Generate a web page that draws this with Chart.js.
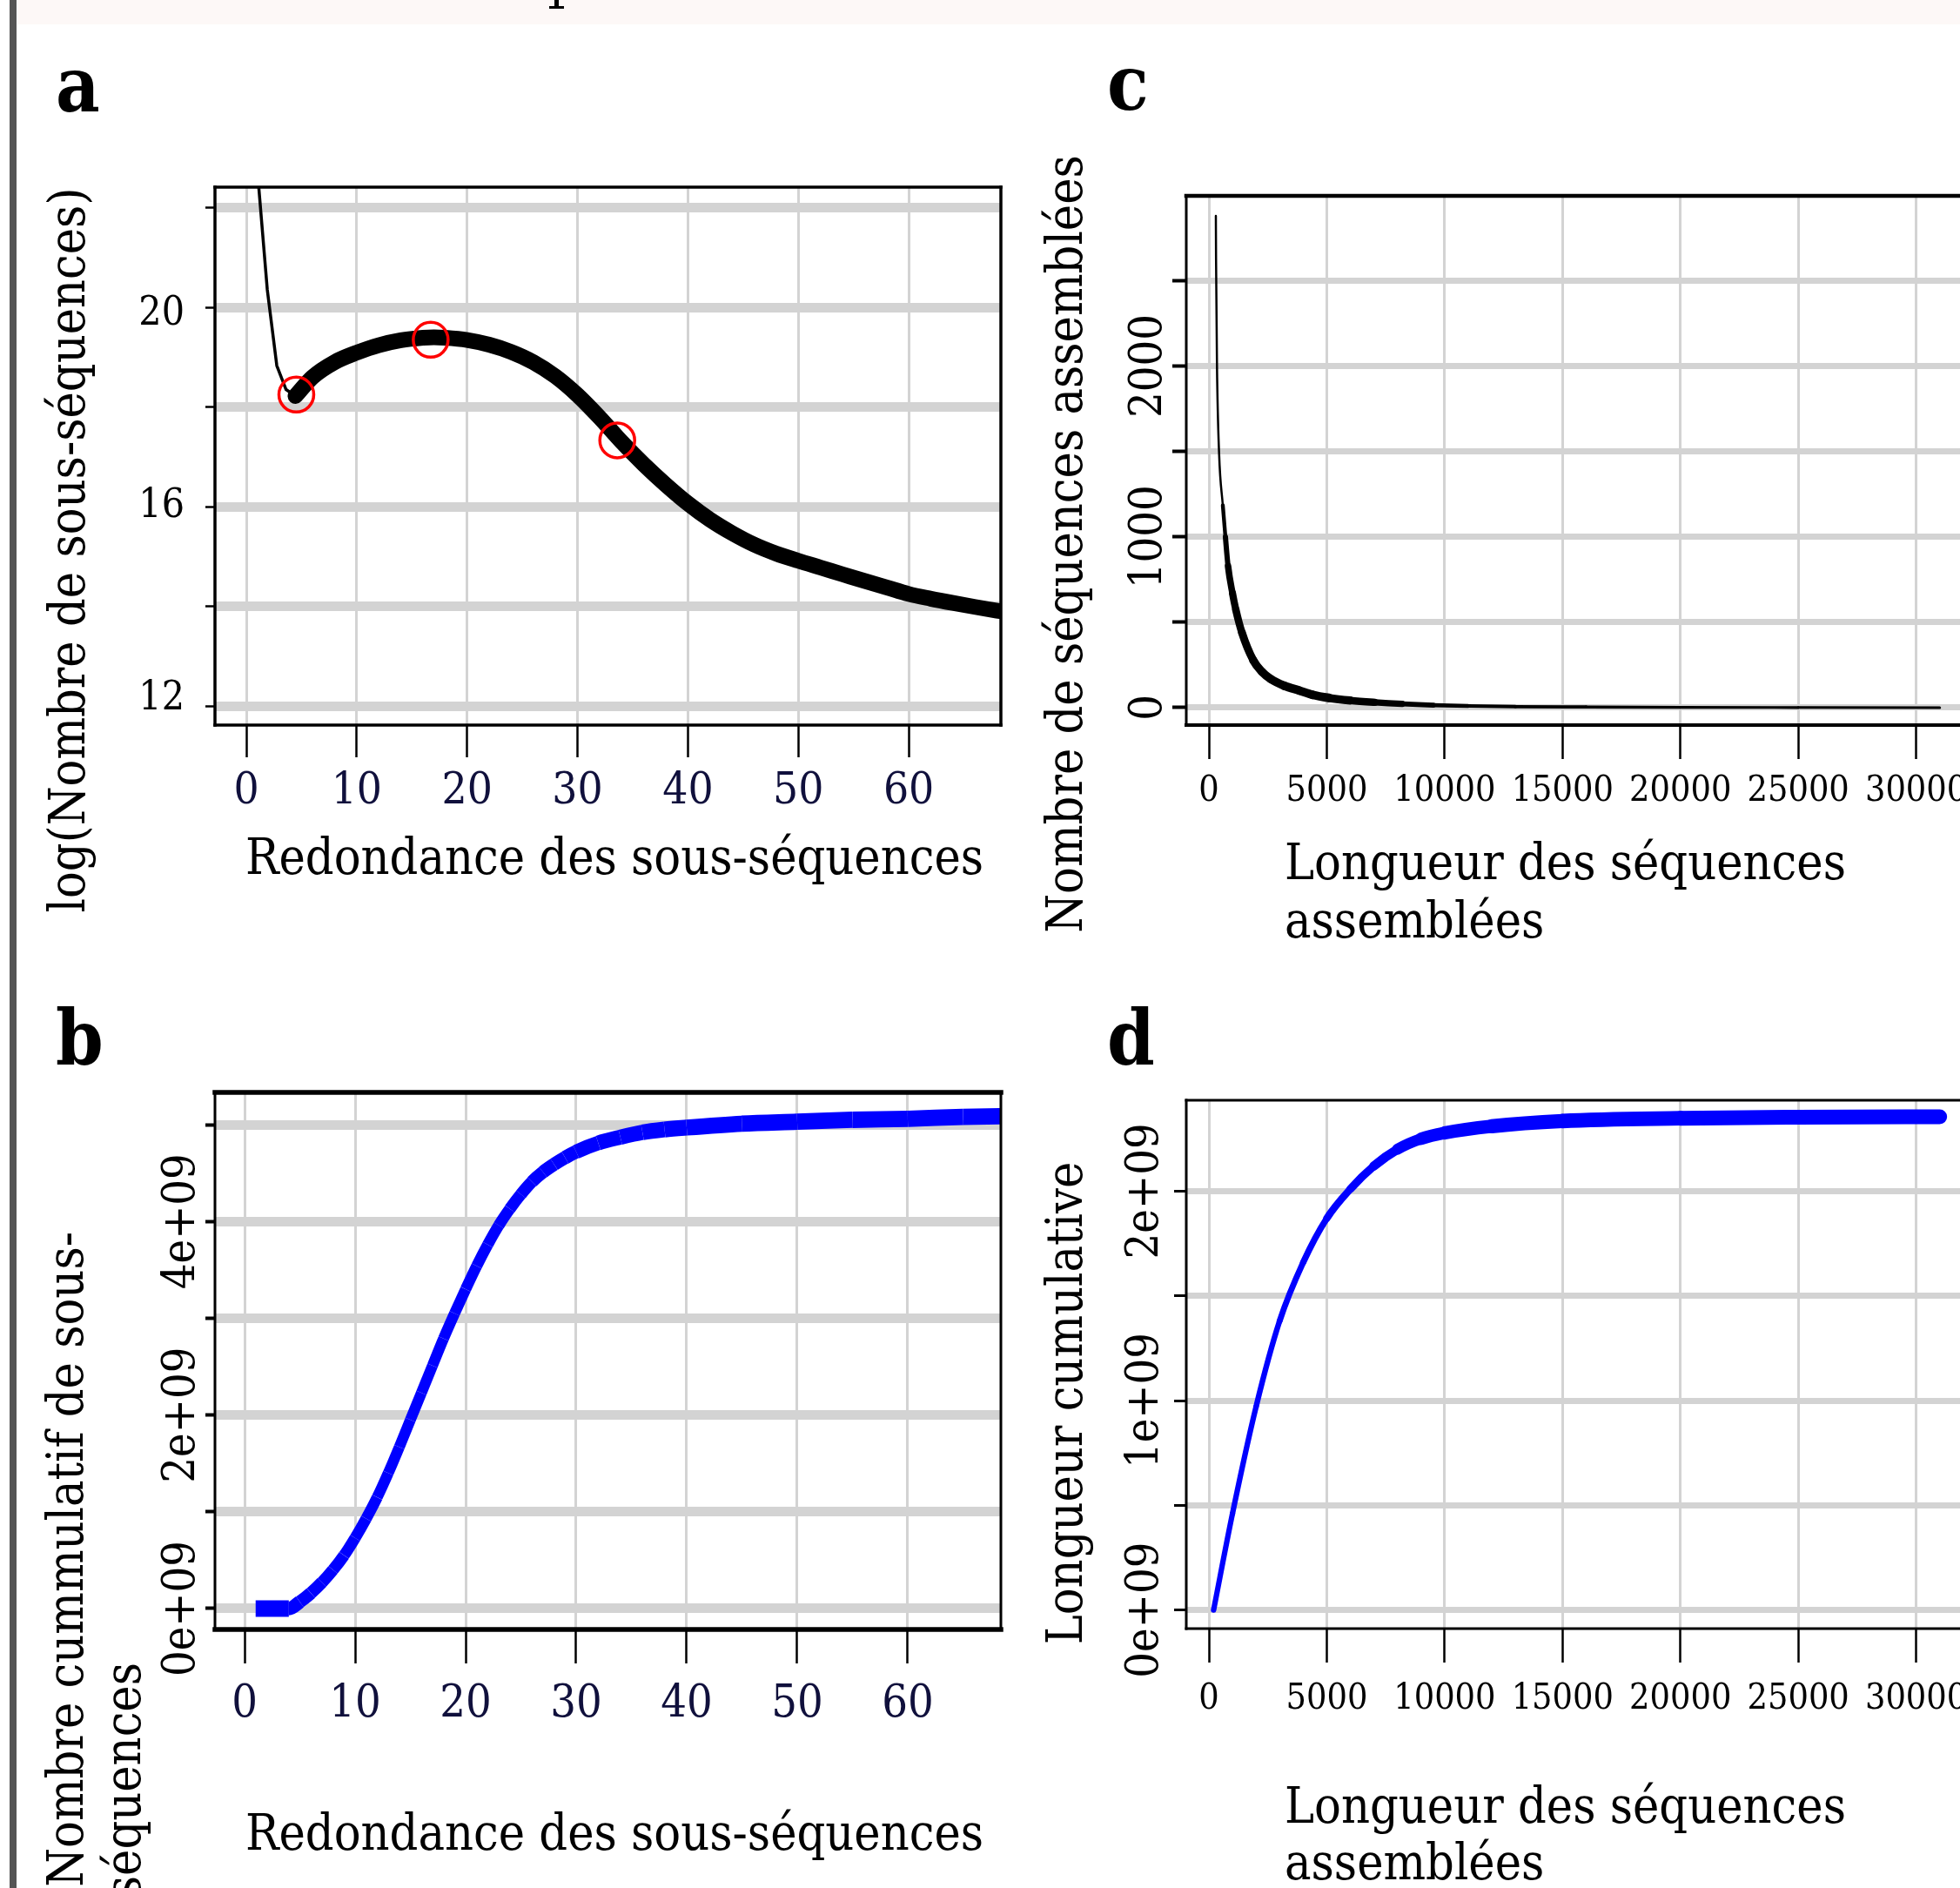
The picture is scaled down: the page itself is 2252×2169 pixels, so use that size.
<!DOCTYPE html>
<html><head><meta charset="utf-8">
<script src="https://cdn.jsdelivr.net/npm/chart.js@4.4.1/dist/chart.umd.min.js"></script>
<style>
html,body{margin:0;padding:0;background:#fff;overflow:hidden;}
body{width:2252px;height:2169px;position:relative;font-family:'DejaVu Serif Condensed','DejaVu Serif',serif;}
canvas{position:absolute;}
.t{position:absolute;white-space:nowrap;color:#000;line-height:1;}
.b{font-weight:bold;}
</style></head><body>
<div style="position:absolute;left:11px;top:0;width:8px;height:2169px;background:#555"></div>
<div style="position:absolute;left:20px;top:0;width:2232px;height:28px;background:#fdf8f7"></div>
<div style="position:absolute;left:637px;top:0;width:5px;height:9px;background:#000"></div>
<div style="position:absolute;left:631px;top:7px;width:17px;height:3px;background:#000"></div>
<canvas id="A" width="1060" height="815" style="left:100px;top:145px"></canvas>
<canvas id="B" width="1060" height="815" style="left:100px;top:1185px"></canvas>
<canvas id="C" width="1150" height="805" style="left:1150px;top:155px"></canvas>
<canvas id="D" width="1150" height="806" style="left:1150px;top:1194px"></canvas>
<div id="texts"></div>
<script>
// ================= DATA =================
// Panel a : log(number of sub-sequences) vs redundancy
const aThinX = [1.0, 1.9, 2.76, 3.6, 4.45];
const aThinY = [22.75, 20.35, 18.83, 18.35, 18.22];
const aX = [4.45, 6, 8, 10, 12, 14, 16, 17, 18, 20, 22, 24, 26, 28, 30, 32, 34, 36, 38, 40, 42, 44, 46, 48, 50, 52, 54, 56, 58, 60, 62, 64, 66, 68, 70];
const aY = [18.22, 18.6, 18.9, 19.09, 19.24, 19.34, 19.39, 19.4, 19.39, 19.345, 19.25, 19.105, 18.9, 18.615, 18.24, 17.79, 17.3, 16.85, 16.44, 16.065, 15.74, 15.47, 15.24, 15.06, 14.915, 14.78, 14.645, 14.51, 14.38, 14.25, 14.155, 14.07, 13.99, 13.915, 13.845];
const aMarkX = [4.53, 16.7, 33.6];
const aMarkY = [18.25, 19.35, 17.33];
const aXTicks = [0, 10, 20, 30, 40, 50, 60];
const aXLabels = ['0', '10', '20', '30', '40', '50', '60'];
const aYTicks = [12, 14, 16, 18, 20, 22];
const aYLabels = ['12', '', '16', '', '20', ''];

// Panel b : cumulative number of sub-sequences
const bX = [1, 2, 3, 4, 5, 6, 7, 8, 9, 10, 11, 12, 13, 14, 15, 16, 17, 18, 19, 20, 21, 22, 23, 24, 25, 26, 27, 28, 29, 30, 32, 34, 36, 38, 40, 45, 50, 55, 60, 65, 70];
const bY = [0, 0, 0, 0, 0.07e9, 0.16e9, 0.27e9, 0.4e9, 0.55e9, 0.73e9, 0.93e9, 1.15e9, 1.4e9, 1.67e9, 1.95e9, 2.23e9, 2.51e9, 2.79e9, 3.05e9, 3.3e9, 3.54e9, 3.76e9, 3.96e9, 4.13e9, 4.28e9, 4.41e9, 4.51e9, 4.59e9, 4.66e9, 4.72e9, 4.81e9, 4.87e9, 4.92e9, 4.95e9, 4.97e9, 5.01e9, 5.03e9, 5.05e9, 5.06e9, 5.08e9, 5.09e9];
const bXTicks = [0, 10, 20, 30, 40, 50, 60];
const bXLabels = ['0', '10', '20', '30', '40', '50', '60'];
const bYTicks = [0, 1e9, 2e9, 3e9, 4e9, 5e9];
const bYLabels = ['0e+09', '', '2e+09', '', '4e+09', ''];

// Panel c : number of assembled sequences vs length
const cX = [295, 303, 343, 432, 590, 700, 812, 1000, 1140, 1400, 1880, 2250, 2620, 3200, 3840, 4400, 5090, 6000, 7050, 8200, 9520, 11000, 13000, 16000, 20000, 25000, 31000];
const cY = [2880, 2630, 2000, 1490, 1185, 1000, 829, 670, 575, 440, 278, 210, 168, 128, 100, 75, 57, 42, 31, 22, 15, 10, 6, 4, 2, 1, 0];
const cXTicks = [0, 5000, 10000, 15000, 20000, 25000, 30000];
const cXLabels = ['0', '5000', '10000', '15000', '20000', '25000', '30000'];
const cYTicks = [0, 500, 1000, 1500, 2000, 2500];
const cYLabels = ['0', '', '1000', '', '2000', ''];

// Panel d : cumulative length vs length
const dX = [200, 1000, 2000, 3000, 4000, 5000, 6000, 7000, 8000, 9000, 10000, 12000, 15000, 20000, 25000, 31000];
const dY = [0, 0.46e9, 0.97e9, 1.38e9, 1.66e9, 1.87e9, 2.01e9, 2.12e9, 2.2e9, 2.25e9, 2.278e9, 2.31e9, 2.335e9, 2.348e9, 2.353e9, 2.355e9];
const dXTicks = [0, 5000, 10000, 15000, 20000, 25000, 30000];
const dXLabels = ['0', '5000', '10000', '15000', '20000', '25000', '30000'];
const dYTicks = [0, 0.5e9, 1e9, 1.5e9, 2e9];
const dYLabels = ['0e+09', '', '1e+09', '', '2e+09'];

// ================= STYLE / HELPERS =================
const FONT = "'DejaVu Serif Condensed', 'DejaVu Serif', serif";
const NAVY = '#10103c';
const GRID = '#d3d3d3';
const pts = (xs, ys) => xs.map((x, i) => ({x: x, y: ys[i]}));

const framePlugin = {
  id: 'frame',
  afterDatasetsDraw(chart, args, o) {
    const a = chart.chartArea, ctx = chart.ctx;
    ctx.save();
    ctx.strokeStyle = '#000';
    ctx.lineCap = 'square';
    const side = (w, x1, y1, x2, y2) => {
      if (!w) return;
      ctx.lineWidth = w; ctx.beginPath(); ctx.moveTo(x1, y1); ctx.lineTo(x2, y2); ctx.stroke();
    };
    side(o.top, a.left, a.top, a.right, a.top);
    side(o.bottom, a.left, a.bottom, a.right, a.bottom);
    side(o.left, a.left, a.top, a.left, a.bottom);
    side(o.right, a.right, a.top, a.right, a.bottom);
    ctx.restore();
  }
};
Chart.register(framePlugin);

function scale(o) {
  const font = {family: FONT, size: o.fontSize};
  if (o.lineHeight) font.lineHeight = o.lineHeight;
  return {
    type: 'linear', min: o.min, max: o.max,
    afterBuildTicks: s => { s.ticks = o.ticks.map(v => ({value: v})); },
    afterFit: s => { if (o.width !== undefined) s.width = o.width; if (o.height !== undefined) s.height = o.height; },
    border: {display: false},
    grid: {color: GRID, lineWidth: o.gridWidth, drawTicks: true, tickLength: o.tickLength, tickColor: '#000', tickWidth: o.tickWidth},
    ticks: {
      autoSkip: false, font: font, color: o.color || '#000',
      padding: o.padding, minRotation: o.rot || 0, maxRotation: o.rot || 0,
      crossAlign: o.crossAlign || 'near',
      callback: o.callback || ((v, i) => o.labels[i])
    }
  };
}

function slopeWidth(flat, steep) {
  return ctx => {
    const dx = ctx.p1.x - ctx.p0.x, dy = ctx.p1.y - ctx.p0.y;
    const h = Math.hypot(dx, dy) || 1;
    return flat - (flat - steep) * Math.abs(dy) / h;
  };
}

// stroke width of the noisy count curve (panel c) as a function of count level
const cWidthLevels = [0, 15, 30, 60, 700, 1300, 3000];
const cWidthPx =     [3, 5, 8, 10, 8, 2.5, 2.5];
function cWidth(v) {
  for (let i = 1; i < cWidthLevels.length; i++) {
    if (v <= cWidthLevels[i]) {
      const t = (v - cWidthLevels[i - 1]) / (cWidthLevels[i] - cWidthLevels[i - 1]);
      return cWidthPx[i - 1] + t * (cWidthPx[i] - cWidthPx[i - 1]);
    }
  }
  return 2.5;
}

const base = (padRight, plugFrame) => ({
  responsive: false, animation: false, events: [],
  layout: {autoPadding: false, padding: {left: 0, top: 70, right: padRight, bottom: 0}},
  plugins: {legend: {display: false}, tooltip: {enabled: false}, frame: plugFrame}
});

// ================= PANEL A =================
// in the original the y labels are nudged: "12" sits a little above its tick, "20" a little below
const aYLabelShift = ['up', '', 'none', '', 'down', ''];
new Chart(document.getElementById('A'), {
  type: 'line',
  data: {datasets: [
    {data: pts(aMarkX, aMarkY), showLine: false, pointRadius: 20, pointBorderWidth: 3.5, pointBorderColor: '#ff0000', pointBackgroundColor: 'rgba(0,0,0,0)', order: 0},
    {data: pts(aThinX, aThinY), borderColor: '#000', borderWidth: 3.5, pointRadius: 0, clip: 0, borderJoinStyle: 'round', order: 1},
    {data: pts(aX, aY), borderColor: '#000', borderWidth: 18, pointRadius: 0, clip: 0, cubicInterpolationMode: 'monotone', borderJoinStyle: 'round', borderCapStyle: 'round', order: 1}
  ]},
  options: Object.assign(base(10, {top: 3.5, bottom: 3.5, left: 3.5, right: 3.5}), {
    scales: {
      x: scale({min: -2.84, max: 68.35, ticks: aXTicks, labels: aXLabels, height: 127, gridWidth: 3, tickLength: 37, tickWidth: 2.5, fontSize: 51, color: NAVY, padding: 9}),
      y: scale({min: 11.62, max: 22.41, ticks: aYTicks, labels: aYLabels, width: 147, gridWidth: 11, tickLength: 11, tickWidth: 2.5, fontSize: 46, padding: 24, lineHeight: '16px',
                callback: (v, i) => {
                  const l = aYLabels[i];
                  if (!l) return '';
                  if (aYLabelShift[i] === 'down') return ['', l];
                  if (aYLabelShift[i] === 'up') return [l, ''];
                  return l;
                }})
    }
  })
});

// ================= PANEL B =================
new Chart(document.getElementById('B'), {
  type: 'line',
  data: {datasets: [
    {data: pts(bX, bY), borderColor: '#0000ff', pointRadius: 0, clip: 0, cubicInterpolationMode: 'monotone', borderCapStyle: 'butt', borderJoinStyle: 'round', borderWidth: 15,
     segment: {borderWidth: slopeWidth(19, 12)}}
  ]},
  options: Object.assign(base(10, {top: 5.5, bottom: 5.5, left: 3, right: 3}), {
    scales: {
      x: scale({min: -2.68, max: 68.43, ticks: bXTicks, labels: bXLabels, height: 128, gridWidth: 3, tickLength: 39, tickWidth: 2.5, fontSize: 52, color: NAVY, padding: 16}),
      y: scale({min: -0.216e9, max: 5.333e9, ticks: bYTicks, labels: bYLabels, width: 147, gridWidth: 11, tickLength: 11, tickWidth: 4, fontSize: 52, padding: -52, rot: 90, crossAlign: 'center'})
    }
  })
});

// ================= PANEL C =================
new Chart(document.getElementById('C'), {
  type: 'line',
  data: {datasets: [
    {data: pts(cX, cY), borderColor: '#000', pointRadius: 0, clip: 0, cubicInterpolationMode: 'monotone', borderCapStyle: 'round', borderJoinStyle: 'round', borderWidth: 2.5,
     segment: {borderWidth: ctx => cWidth((cY[ctx.p0DataIndex] + cY[ctx.p1DataIndex]) / 2)}}
  ]},
  options: Object.assign(base(38, {top: 4.5, bottom: 4, left: 3, right: 3}), {
    scales: {
      x: scale({min: -960, max: 32230, ticks: cXTicks, labels: cXLabels, height: 127, gridWidth: 3, tickLength: 39, tickWidth: 2.5, fontSize: 41, padding: 13}),
      y: scale({min: -102, max: 2997, ticks: cYTicks, labels: cYLabels, width: 213, gridWidth: 7, tickLength: 16, tickWidth: 4, fontSize: 52, padding: -33, rot: 90, crossAlign: 'center'})
    }
  })
});

// ================= PANEL D =================
new Chart(document.getElementById('D'), {
  type: 'line',
  data: {datasets: [
    {data: pts(dX, dY), borderColor: '#0000ff', pointRadius: 0, clip: 0, cubicInterpolationMode: 'monotone', borderCapStyle: 'round', borderJoinStyle: 'round', borderWidth: 8,
     segment: {borderWidth: slopeWidth(17, 6)}}
  ]},
  options: Object.assign(base(38, {top: 3, bottom: 3, left: 3, right: 3}), {
    scales: {
      x: scale({min: -960, max: 32230, ticks: dXTicks, labels: dXLabels, height: 129, gridWidth: 3, tickLength: 39, tickWidth: 2.5, fontSize: 41, padding: 18}),
      y: scale({min: -0.089e9, max: 2.434e9, ticks: dYTicks, labels: dYLabels, width: 213, gridWidth: 7, tickLength: 14, tickWidth: 3, fontSize: 52, padding: -46, rot: 90, crossAlign: 'center'})
    }
  })
});

// ================= TEXT (titles, panel letters) =================
const host = document.getElementById('texts');
function el(text, css, cls) {
  const d = document.createElement('div');
  d.className = 't' + (cls ? ' ' + cls : '');
  d.textContent = text;
  d.style.cssText = css;
  host.appendChild(d);
  return d;
}
const ASC = 0.846; // baseline offset for line-height:1
function hLeft(text, left, baseline, size, cls) {
  el(text, `left:${left}px;top:${baseline - ASC * size}px;font-size:${size}px;`, cls);
}
function hCenter(text, cx, baseline, size) {
  const W = 1400;
  el(text, `left:${cx - W / 2}px;top:${baseline - ASC * size}px;width:${W}px;text-align:center;font-size:${size}px;`);
}
function vCenter(text, baseX, cy, size) {
  const W = 1400;
  el(text, `left:${baseX - ASC * size}px;top:${cy + W / 2}px;width:${W}px;height:${size}px;text-align:center;font-size:${size}px;transform-origin:0 0;transform:rotate(-90deg);`);
}
function vEnd(text, baseX, endY, size) {
  const W = 1400;
  el(text, `left:${baseX - ASC * size}px;top:${endY + W}px;width:${W}px;height:${size}px;text-align:right;font-size:${size}px;transform-origin:0 0;transform:rotate(-90deg);`);
}
const TS = 57;
// panel a
hLeft('a', 64, 128, 87, 'b');
vCenter('log(Nombre de sous-séquences)', 97, 632, TS);
hCenter('Redondance des sous-séquences', 706, 1004, TS);
// panel c
hLeft('c', 1272, 126, 87, 'b');
vCenter('Nombre de séquences assemblées', 1243, 625, TS);
hLeft('Longueur des séquences', 1476, 1010, TS);
hLeft('assemblées', 1476, 1077, TS);
// panel b
hLeft('b', 64, 1223, 87, 'b');
vEnd('Nombre cummulatif de sous-', 95, 1415, TS);
vEnd('séquences', 161, 1910, TS);
hCenter('Redondance des sous-séquences', 706, 2125, TS);
// panel d
hLeft('d', 1272, 1223, 87, 'b');
vCenter('Longueur cumulative', 1243, 1612, TS);
hLeft('Longueur des séquences', 1476, 2094, TS);
hLeft('assemblées', 1476, 2159, TS);
</script>
</body></html>
